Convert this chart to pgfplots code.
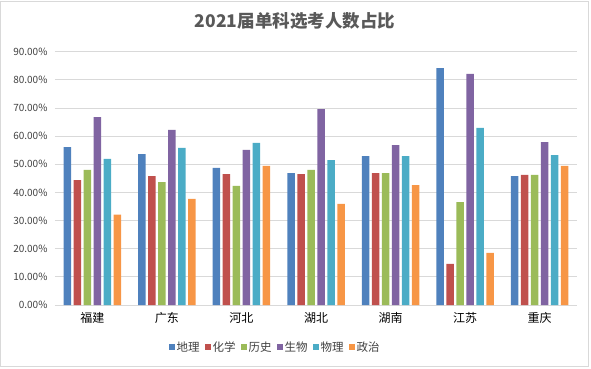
\documentclass[border=0pt]{standalone}
\usepackage{pgfplots}
\pgfplotsset{compat=1.18}
\usepackage{fontspec}
\setmainfont{Noto Sans CJK SC}
\definecolor{cA}{HTML}{4F81BD}
\definecolor{cB}{HTML}{C0504D}
\definecolor{cC}{HTML}{9BBB59}
\definecolor{cD}{HTML}{8064A2}
\definecolor{cE}{HTML}{4BACC6}
\definecolor{cF}{HTML}{F79646}
\definecolor{gridc}{HTML}{D9D9D9}
\definecolor{txt}{HTML}{404040}
\begin{document}
\begin{tikzpicture}[x=1pt,y=1pt]
\useasboundingbox (-55,-63) rectangle (536,305);
\draw[color=gridc,line width=1pt] (-54,-61.5) rectangle (533.5,304);
\begin{axis}[
  at={(0,0)}, anchor=south west,
  scale only axis, width=522pt, height=253.3pt,
  ybar=2.5pt, bar width=7.5pt,
  xmin=-0.5, xmax=6.5, ymin=0, ymax=90,
  xtick=data,
  xticklabels={福建,广东,河北,湖北,湖南,江苏,重庆},
  ytick={0,10,...,90},
  yticklabel={\pgfmathprintnumber[fixed,fixed zerofill,precision=2]{\tick}\%},
  /pgf/number format/assume math mode=true,
  ymajorgrids, grid style={gridc, line width=0.8pt},
  axis lines*=left,
  y axis line style={draw=none},
  x axis line style={gridc, line width=0.8pt, -},
  major tick length=0pt,
  tick style={draw=none},
  xticklabel style={font=\fontsize{12}{14}\selectfont, text=black, yshift=-4pt},
  yticklabel style={font=\fontsize{10}{12}\selectfont, text=txt, xshift=-4pt},
  legend columns=-1,
  legend style={at={(0.4215,-0.166)}, anchor=center, draw=none, fill=none,
    font=\fontsize{11.5}{13}\selectfont, text=txt, inner xsep=1.5pt,
    /tikz/every odd column/.append style={column sep=0pt},
    /tikz/every even column/.append style={column sep=3pt}},
  legend image code/.code={\fill[#1] (0pt,-3pt) rectangle (6pt,3pt);},
  every axis plot/.append style={draw=none},
]
\addplot[fill=cA] coordinates {(0,56.1) (1,53.6) (2,48.7) (3,46.9) (4,52.9) (5,84.2) (6,45.8)};
\addplot[fill=cB] coordinates {(0,44.4) (1,45.8) (2,46.5) (3,46.5) (4,46.9) (5,14.6) (6,46.2)};
\addplot[fill=cC] coordinates {(0,48.0) (1,43.7) (2,42.3) (3,48.0) (4,46.9) (5,36.6) (6,46.2)};
\addplot[fill=cD] coordinates {(0,66.8) (1,62.2) (2,55.1) (3,69.6) (4,56.8) (5,82.1) (6,57.9)};
\addplot[fill=cE] coordinates {(0,51.9) (1,55.8) (2,57.6) (3,51.5) (4,52.9) (5,62.9) (6,53.3)};
\addplot[fill=cF] coordinates {(0,32.1) (1,37.7) (2,49.4) (3,35.9) (4,42.6) (5,18.5) (6,49.4)};
\legend{地理,化学,历史,生物,物理,政治}
\end{axis}
\node[font=\fontsize{17.5}{20}\selectfont\bfseries, text=black!65] at (240,284) {2021届单科选考人数占比};
\end{tikzpicture}
\end{document}
